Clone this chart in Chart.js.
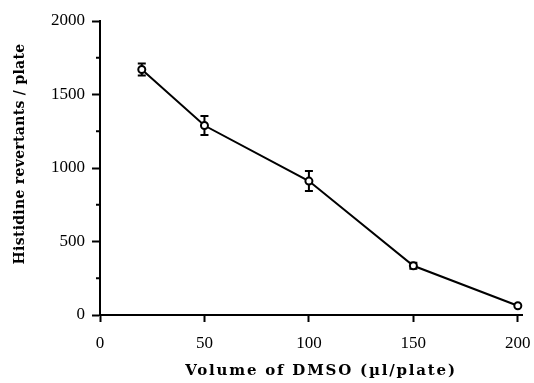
<!DOCTYPE html>
<html>
<head>
<meta charset="utf-8">
<script src="https://cdn.jsdelivr.net/npm/chart.js@4"></script>
<style>
  html, body { margin: 0; padding: 0; background: #fff; }
  #wrap { width: 534px; height: 383px; }
</style>
</head>
<body>
<div id="wrap"><canvas id="dmsoChart"></canvas></div>
<script>
// values
var volumes = [20, 50, 100, 150, 200];
var revertants = [1670, 1289, 911, 335, 63];
var errors = [41, 65, 68, 20, 0];
var xTicks = [0, 50, 100, 150, 200];
var yTicks = [0, 500, 1000, 1500, 2000];
var yMinorTicks = [250, 750, 1250, 1750];
var xTitle = 'Volume of DMSO (\u00b5l/plate)';
var yTitle = 'Histidine revertants / plate';

// error bars, drawn under the open markers
var errorBars = {
  id: 'errorBars',
  beforeDatasetsDraw: function(chart) {
    var ctx = chart.ctx, x = chart.scales.x, y = chart.scales.y;
    ctx.save();
    ctx.strokeStyle = '#000';
    ctx.lineWidth = 2;
    volumes.forEach(function(v, i) {
      if (!errors[i]) return;
      var px = x.getPixelForValue(v);
      var top = y.getPixelForValue(revertants[i] + errors[i]);
      var bot = y.getPixelForValue(revertants[i] - errors[i]);
      ctx.beginPath();
      ctx.moveTo(px, top); ctx.lineTo(px, bot);
      ctx.moveTo(px - 4, top); ctx.lineTo(px + 4, top);
      ctx.moveTo(px - 4, bot); ctx.lineTo(px + 4, bot);
      ctx.stroke();
    });
    ctx.restore();
  }
};

// short minor ticks on the y axis, and the spaced-out axis titles
var extras = {
  id: 'extras',
  afterDraw: function(chart) {
    var ctx = chart.ctx, y = chart.scales.y, area = chart.chartArea;
    ctx.save();
    ctx.strokeStyle = '#000';
    ctx.lineWidth = 2;
    yMinorTicks.forEach(function(t) {
      var py = y.getPixelForValue(t);
      ctx.beginPath();
      ctx.moveTo(area.left - 4, py); ctx.lineTo(area.left, py);
      ctx.stroke();
    });

    ctx.fillStyle = '#000';
    ctx.textAlign = 'center';
    ctx.textBaseline = 'middle';
    ctx.font = 'bold 15px "DejaVu Serif"';
    ctx.letterSpacing = '1.8px';
    ctx.fillText(xTitle, 321, 371);

    ctx.translate(20, 154);
    ctx.rotate(-Math.PI / 2);
    ctx.font = 'bold 14px "DejaVu Serif"';
    ctx.letterSpacing = '0.3px';
    ctx.fillText(yTitle, 0, 0);
    ctx.restore();
  }
};

var ctx = document.getElementById('dmsoChart').getContext('2d');
new Chart(ctx, {
  type: 'line',
  data: {
    datasets: [{
      data: volumes.map(function(v, i) { return { x: v, y: revertants[i] }; }),
      borderColor: '#000',
      borderWidth: 2,
      pointRadius: 3.5,
      pointBorderWidth: 2,
      pointBackgroundColor: '#fff',
      pointBorderColor: '#000',
      tension: 0,
      fill: false,
      clip: false
    }]
  },
  options: {
    responsive: true,
    maintainAspectRatio: false,
    animation: false,
    layout: { padding: { top: 21, right: 12, bottom: 0, left: 0 } },
    plugins: { legend: { display: false }, tooltip: { enabled: false } },
    scales: {
      x: {
        type: 'linear',
        min: 0,
        max: 202,
        afterFit: function(s) { s.height = 68; s.paddingLeft = 0; s.paddingRight = 0; },
        afterBuildTicks: function(s) { s.ticks = xTicks.map(function(v) { return { value: v }; }); },
        border: { display: true, color: '#000', width: 2 },
        grid: { drawOnChartArea: false, color: '#000', tickLength: 7, tickWidth: 2 },
        ticks: {
          color: '#000', padding: 11, maxRotation: 0,
          font: { family: 'Liberation Serif', size: 17 },
          callback: function(v) { return String(v); }
        }
      },
      y: {
        min: 0,
        max: 2000,
        afterFit: function(s) { s.width = 100; s.paddingTop = 0; s.paddingBottom = 0; },
        afterBuildTicks: function(s) { s.ticks = yTicks.map(function(v) { return { value: v }; }); },
        border: { display: true, color: '#000', width: 2 },
        grid: { drawOnChartArea: false, color: '#000', tickLength: 8, tickWidth: 2 },
        ticks: {
          color: '#000', padding: 7,
          font: { family: 'Liberation Serif', size: 17 },
          callback: function(v) { return String(v); }
        }
      }
    }
  },
  plugins: [errorBars, extras]
});
</script>
</body>
</html>
